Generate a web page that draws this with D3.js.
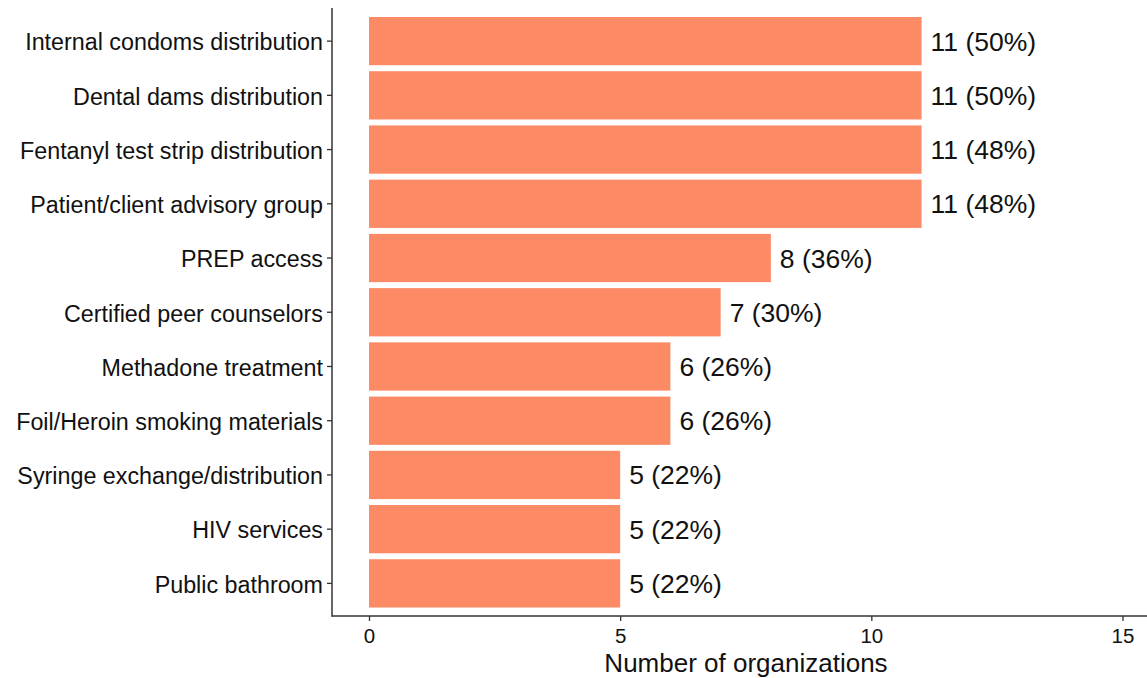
<!DOCTYPE html>
<html><head><meta charset="utf-8">
<script src="https://cdn.jsdelivr.net/npm/d3@7"></script>
<style>body{margin:0;background:#fff}svg{display:block;font-family:"Liberation Sans",Arial,sans-serif}</style>
</head><body>
<svg id="c" width="1147" height="678"></svg>
<script>
const categories = ["Internal condoms distribution","Dental dams distribution","Fentanyl test strip distribution","Patient/client advisory group","PREP access","Certified peer counselors","Methadone treatment","Foil/Heroin smoking materials","Syringe exchange/distribution","HIV services","Public bathroom"];
const counts = [11,11,11,11,8,7,6,6,5,5,5];
const percents = [50,50,48,48,36,30,26,26,22,22,22];
const xTicks = [0,5,10,15];

const svg = d3.select("#c");
const axisX = 332, axisBottom = 616, axisTop = 8;
const x = d3.scaleLinear().domain([0,15]).range([369,1122.5]);
const y = d3.scaleBand().domain(categories).range([14, 610.5]).paddingInner(0.11).paddingOuter(0.055);

const data = categories.map((c,i)=>({c, n:counts[i], p:percents[i]}));

svg.selectAll("rect.bar").data(data).enter().append("rect")
  .attr("x", x(0)).attr("y", d=>y(d.c))
  .attr("width", d=>x(d.n)-x(0)).attr("height", y.bandwidth())
  .attr("fill", "#FC8A65");

svg.selectAll("text.val").data(data).enter().append("text")
  .attr("x", d=>x(d.n)+9).attr("y", d=>y(d.c)+y.bandwidth()/2)
  .attr("dy","0.36em").attr("font-size",26.5).attr("fill","#111")
  .text(d=>`${d.n} (${d.p}%)`);

// y axis
const gy = svg.append("g").attr("transform",`translate(${axisX},0)`)
  .call(d3.axisLeft(y).tickSize(5).tickPadding(4));
gy.select(".domain").remove();
gy.selectAll("line").attr("stroke","#333").attr("stroke-width",1.3);
gy.selectAll("text").attr("font-size",23.3).attr("fill","#111").attr("dy","0.4em")
  .attr("font-family","Liberation Sans, Arial, sans-serif");
svg.append("line").attr("x1",axisX).attr("x2",axisX).attr("y1",axisTop).attr("y2",axisBottom+0.7)
  .attr("stroke","#333").attr("stroke-width",1.5);

// x axis
const gx = svg.append("g").attr("transform",`translate(0,${axisBottom})`)
  .call(d3.axisBottom(x).tickValues(xTicks).tickSize(5).tickPadding(7));
gx.select(".domain").remove();
gx.selectAll("line").attr("stroke","#333").attr("stroke-width",1.3);
gx.selectAll("text").attr("font-size",20.5).attr("fill","#111").attr("font-family","Liberation Sans, Arial, sans-serif");
svg.append("line").attr("x1",axisX).attr("x2",1147).attr("y1",axisBottom).attr("y2",axisBottom)
  .attr("stroke","#333").attr("stroke-width",1.5);

svg.append("text").attr("x",746).attr("y",672).attr("text-anchor","middle")
  .attr("font-size",26).attr("fill","#111").text("Number of organizations");
</script>
</body></html>
